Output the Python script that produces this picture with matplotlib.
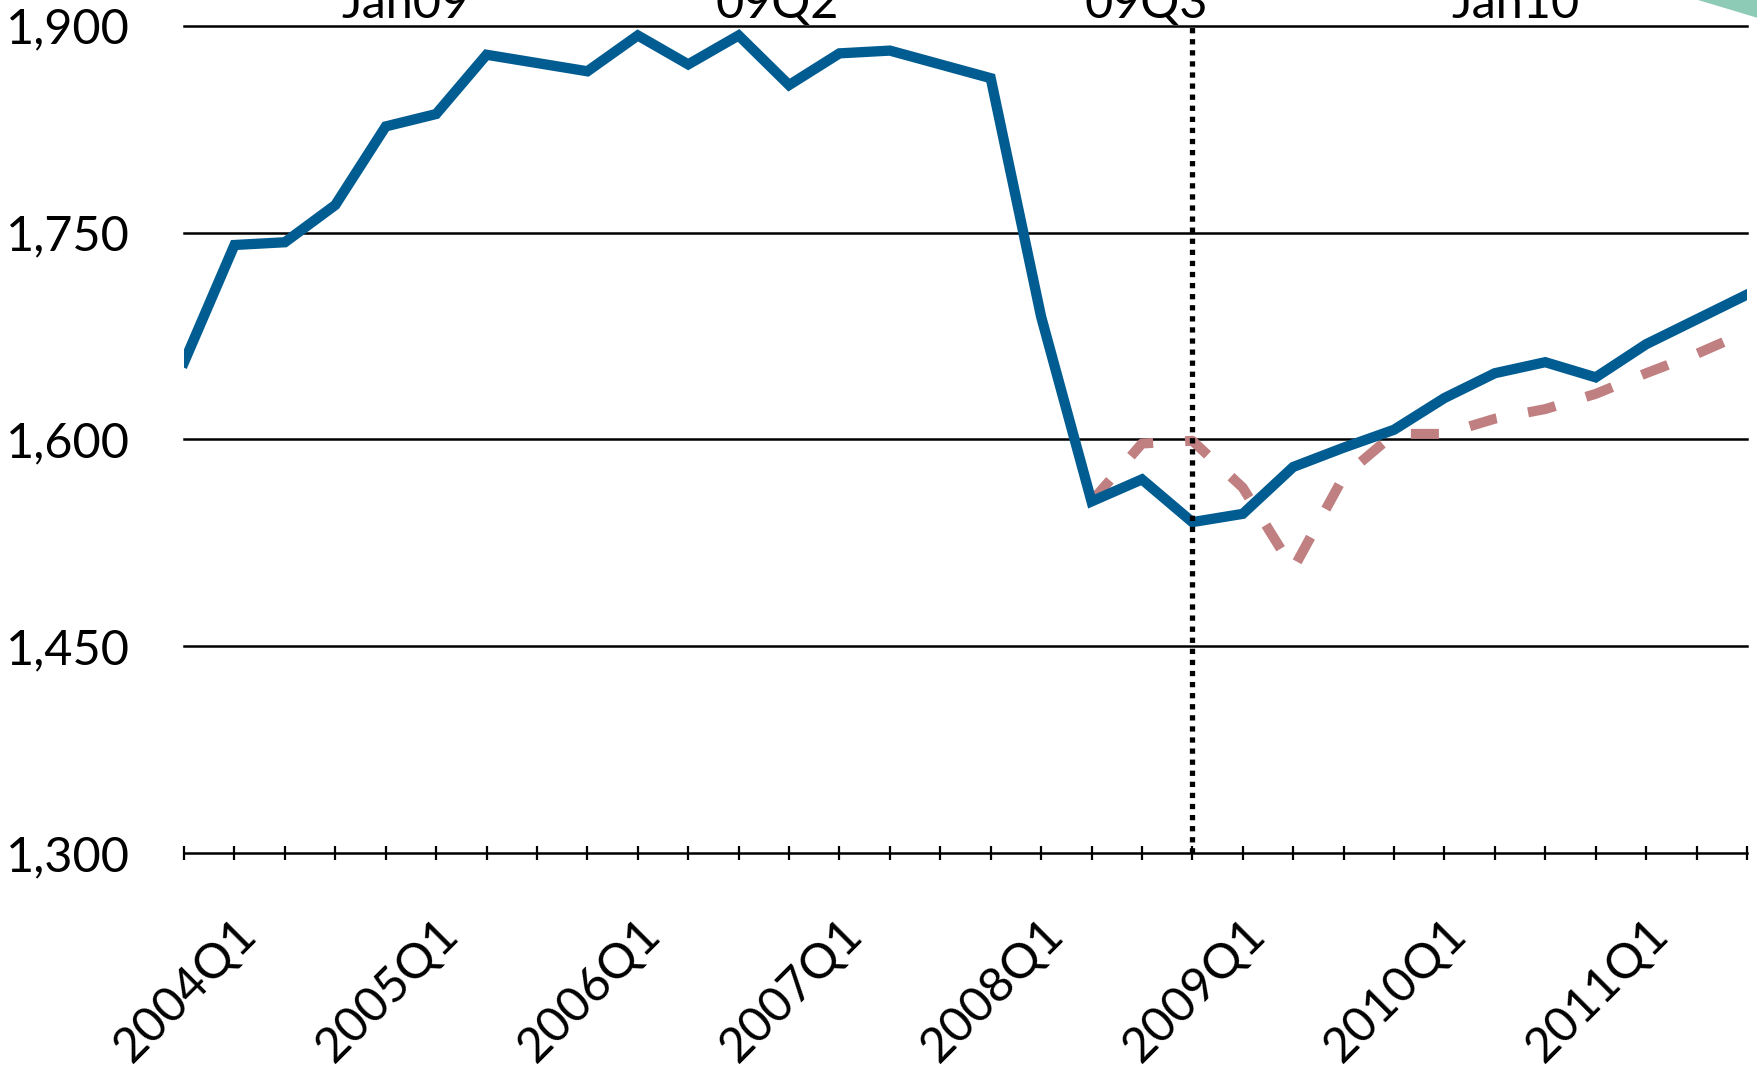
import matplotlib
matplotlib.use("Agg")
import matplotlib.pyplot as plt
import matplotlib.transforms as mtransforms
from matplotlib.patches import Polygon
import numpy as np

plt.rcParams["font.family"] = ["Lato", "DejaVu Sans"]

# quarterly series, 2004Q1 .. 2011Q4
years = list(range(2004, 2012))
quarters = [f"{y}Q{q}" for y in years for q in range(1, 5)]

actual = [1656, 1741, 1743, 1770, 1827, 1836, 1879, 1873, 1867, 1893,
          1872, 1893, 1857, 1880, 1882, 1872, 1862, 1689, 1555, 1571,
          1540, 1546, 1580, 1594, 1607, 1630, 1648, 1656, 1645, 1669,
          1687, 1705]

# alternative path, starts in 2008Q3
alt_start = "2008Q3"
alt = [1555, 1597, 1599, 1565, 1506, 1573, 1604, 1604, 1615, 1622,
       1633, 1648, 1662, 1678]

marker_quarter = "2009Q1"
top_labels = ["Jan09", "09Q2", "09Q3", "Jan10"]
yticks = [1300, 1450, 1600, 1750, 1900]

BLUE = "#005c91"
ROSE = "#c07f80"
GREEN = "#8ecbb7"

fig = plt.figure(figsize=(17.58, 10.70), dpi=100)
ax = fig.add_axes([0.1047, 0.2028, 0.8890, 0.7731])

x = np.arange(len(quarters))
i0 = quarters.index(alt_start)
x_alt = x[i0:i0 + len(alt)]

for yv in yticks[1:]:
    ax.axhline(yv, color="black", lw=1.8, zorder=1, clip_on=False)

ax.plot(x_alt, alt, color=ROSE, lw=7.2, dashes=(2.8, 3.2),
        solid_capstyle="butt", dash_capstyle="butt", zorder=2)
ax.plot(x, actual, color=BLUE, lw=7.4, solid_joinstyle="miter", zorder=3)

xm = quarters.index(marker_quarter)
ax.plot([xm, xm], [yticks[0], yticks[-1]], color="black", lw=3.8,
        dashes=(1, 1.1), dash_capstyle="butt", zorder=4, clip_on=False)

ax.set_xlim(0, len(quarters) - 1)
ax.set_ylim(yticks[0], yticks[-1])

for side in ["top", "right", "left"]:
    ax.spines[side].set_visible(False)
ax.spines["bottom"].set_linewidth(1.8)
ax.spines["bottom"].set_zorder(5)

ax.set_yticks(yticks)
ax.set_yticklabels([f"{v:,}" for v in yticks])
ax.tick_params(axis="y", length=0, pad=39, labelsize=35)

ax.set_xticks(x)
ax.set_xticklabels([q if q.endswith("Q1") else "" for q in quarters])
ax.tick_params(axis="x", direction="inout", length=10, width=1.6,
               pad=0, labelsize=35)
offset = mtransforms.ScaledTranslation(36 / 72, -37 / 72, fig.dpi_scale_trans)
for lab in ax.get_xticklabels():
    lab.set_rotation(45)
    lab.set_ha("right")
    lab.set_va("top")
    lab.set_rotation_mode("anchor")
    lab.set_transform(lab.get_transform() + offset)

# header labels running off the top edge
for name, xf in zip(top_labels, [405, 777, 1146, 1515]):
    fig.text(xf / 1758, 1 - 18 / 1070, name, ha="center", va="baseline",
             fontsize=35)

fig.patches.append(Polygon([(1698 / 1758, 1.0), (1.0, 1.0), (1.0, 1 - 18 / 1070)],
                           closed=True, facecolor=GREEN, edgecolor="none",
                           transform=fig.transFigure, figure=fig))

fig.savefig("out.png", dpi=100)
